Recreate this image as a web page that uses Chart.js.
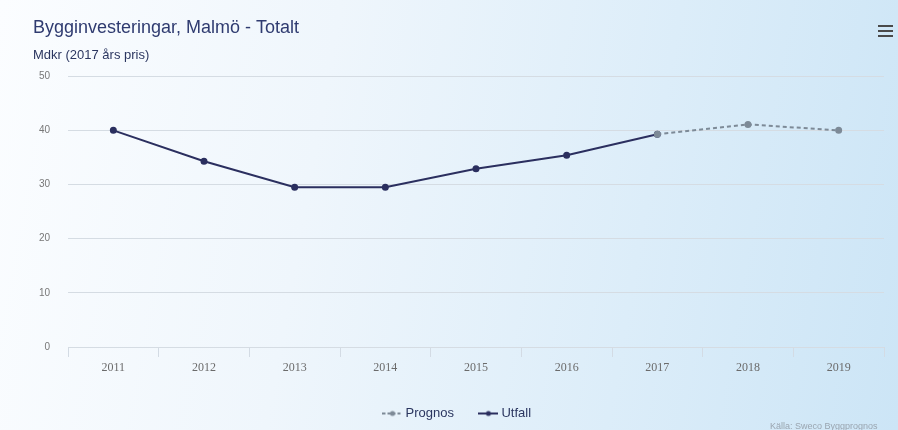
<!DOCTYPE html>
<html><head><meta charset="utf-8">
<script src="https://cdn.jsdelivr.net/npm/chart.js@4"></script>
<style>
html,body{margin:0;padding:0;}
body{width:898px;height:430px;position:relative;overflow:hidden;
background:linear-gradient(100deg,#fbfdff 0%,#eff6fc 35%,#dcedf9 70%,#cce5f6 100%);}
#wrap{position:absolute;left:0;top:0;width:898px;height:430px;}
.menu{position:absolute;left:878px;top:25px;width:15px;}
.menu span{display:block;height:2px;background:#4a4a4a;margin:0 0 3px 0;}
.credit{position:absolute;left:770px;top:421px;font:9px "Liberation Sans",Arial,sans-serif;color:#9aa5b0;white-space:nowrap;}
</style></head>
<body>
<div id="wrap"><canvas id="c" width="898" height="430"></canvas></div>
<div class="menu"><span></span><span></span><span></span></div>
<div class="credit">Källa: Sweco Byggprognos</div>
<script>
const years = ['2011','2012','2013','2014','2015','2016','2017','2018','2019'];
const utfall = [40.0, 34.3, 29.5, 29.5, 32.9, 35.4, 39.3, null, null];
const prognos = [null, null, null, null, null, null, 39.3, 41.1, 40.0];
const yTicks = [0, 10, 20, 30, 40, 50];

const navy = '#2b2f5f';
const grey = '#7d8a97';

function legendSymbol(color, dashed) {
  const c = document.createElement('canvas');
  c.width = 20; c.height = 8;
  const g = c.getContext('2d');
  g.strokeStyle = color; g.lineWidth = 2;
  if (dashed) g.setLineDash([3, 2]);
  g.beginPath(); g.moveTo(0, 4); g.lineTo(20, 4); g.stroke();
  g.setLineDash([]);
  g.fillStyle = color;
  g.beginPath(); g.arc(10, 4, 2.5, 0, Math.PI * 2); g.fill();
  return c;
}
const symbols = [legendSymbol(grey, true), legendSymbol(navy, false)];

new Chart(document.getElementById('c'), {
  type: 'line',
  data: {
    labels: years,
    datasets: [
      {label: 'Prognos', data: prognos, borderColor: grey, backgroundColor: grey,
       borderWidth: 2, borderDash: [4, 3], pointRadius: 2.5, pointHoverRadius: 2.5, tension: 0, spanGaps: false},
      {label: 'Utfall', data: utfall, borderColor: navy, backgroundColor: navy,
       borderWidth: 2, pointRadius: 2.5, pointHoverRadius: 2.5, tension: 0, spanGaps: false}
    ]
  },
  options: {
    responsive: false,
    animation: false,
    layout: {padding: {left: 33, right: 14, top: 17, bottom: 0}},
    plugins: {
      title: {display: true, text: 'Bygginvesteringar, Malmö - Totalt', align: 'start',
        color: '#2f3b70', font: {family: '"Liberation Sans", Arial, sans-serif', size: 18, weight: 'normal'},
        padding: {top: 0, bottom: 9}},
      subtitle: {display: true, text: 'Mdkr (2017 års pris)', align: 'start',
        color: '#2b3660', font: {family: '"Liberation Sans", Arial, sans-serif', size: 13},
        padding: {top: 0, bottom: 13}},
      legend: {position: 'bottom',
        labels: {usePointStyle: true, color: '#2b3660', padding: 28,
          font: {family: '"Liberation Sans", Arial, sans-serif', size: 13},
          generateLabels(chart) {
            const items = Chart.defaults.plugins.legend.labels.generateLabels(chart);
            items.forEach((it, i) => { it.pointStyle = symbols[i]; });
            return items;
          }}},
      tooltip: {enabled: false}
    },
    scales: {
      x: {
        offset: true,
        border: {display: false},
        grid: {display: true, drawOnChartArea: false, drawTicks: true, tickLength: 10, offset: true, color: '#d3dbe4'},
        ticks: {color: '#6b6b6b', padding: 4, font: {family: '"Liberation Serif", serif', size: 12}},
        afterFit(s) { s.height = 32; }
      },
      y: {
        min: 0, max: 50,
        border: {display: false},
        grid: {drawTicks: false, color: '#d5dce3', lineWidth: 1},
        afterBuildTicks(s) { s.ticks = yTicks.map(v => ({value: v})); },
        ticks: {color: '#777', padding: 18, font: {family: '"Liberation Sans", Arial, sans-serif', size: 10}},
        afterFit(s) { s.width = 35; }
      }
    }
  }
});
</script>
</body></html>
